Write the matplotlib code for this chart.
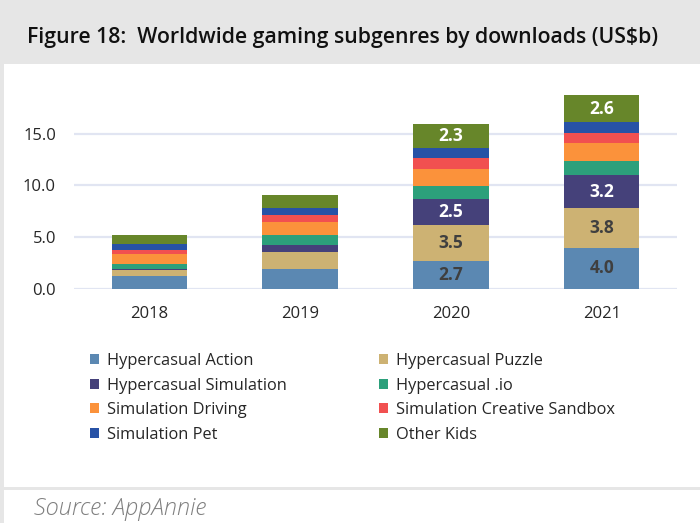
import matplotlib
matplotlib.use("Agg")
import matplotlib.pyplot as plt
from matplotlib.patches import Rectangle
import numpy as np

plt.rcParams['font.family'] = ['Open Sans', 'DejaVu Sans']

years = ["2018", "2019", "2020", "2021"]
series_names = [
    "Hypercasual Action", "Hypercasual Puzzle", "Hypercasual Simulation",
    "Hypercasual .io", "Simulation Driving", "Simulation Creative Sandbox",
    "Simulation Pet", "Other Kids",
]
hc_action     = [1.25, 1.93, 2.7, 4.0]
hc_puzzle     = [0.58, 1.67, 3.5, 3.8]
hc_simulation = [0.08, 0.62, 2.5, 3.2]
hc_io         = [0.55, 0.97, 1.2, 1.4]
sim_driving   = [0.93, 1.28, 1.7, 1.7]
sim_sandbox   = [0.36, 0.65, 1.0, 1.0]
sim_pet       = [0.61, 0.70, 1.0, 1.0]
other_kids    = [0.88, 1.28, 2.3, 2.6]
series_values = [hc_action, hc_puzzle, hc_simulation, hc_io,
                 sim_driving, sim_sandbox, sim_pet, other_kids]
colors = ["#5B88B2", "#CDB273", "#45417A", "#2CA07B",
          "#FB923B", "#F15050", "#2752A6", "#67862A"]
# series index -> label text colour; labels shown for 2020 and 2021 only
labelled = {0: "#3F3F3F", 1: "#3F3F3F", 2: "white", 7: "white"}
labelled_years = [2, 3]
ytick_vals = [0, 5, 10, 15]

W, H = 700, 523
fig = plt.figure(figsize=(W / 100, H / 100), dpi=100)

# header band and frame
fig.patches.append(Rectangle((0, 1 - 64 / H), 1, 64 / H, transform=fig.transFigure,
                             facecolor="#E6E6E6", edgecolor="none", zorder=0))
fig.patches.append(Rectangle((0, 0), 3.5 / W, 1, transform=fig.transFigure,
                             facecolor="#E6E6E6", edgecolor="none", zorder=0))
fig.patches.append(Rectangle((0, 1 - 490 / H), 1, 3 / H, transform=fig.transFigure,
                             facecolor="#E6E6E6", edgecolor="none", zorder=0))

fig.text(27 / W, 1 - 37 / H, "Figure 18:  Worldwide gaming subgenres by downloads (US$b)",
         fontsize=15.3, fontweight="semibold", color="#111111", va="center", ha="left")
fig.text(34 / W, 1 - 509 / H, "Source: AppAnnie", fontsize=17, style="italic",
         fontweight="light", color="#7F7F7F", va="center", ha="left")

ax_left, ax_right = 74, 677
ax_bottom, ax_top = 289, 90
ax = fig.add_axes([ax_left / W, 1 - ax_bottom / H, (ax_right - ax_left) / W,
                   (ax_bottom - ax_top) / H])
x = np.arange(len(years))
bottom = np.zeros(len(years))
handles = []
for i, (name, vals, col) in enumerate(zip(series_names, series_values, colors)):
    bars = ax.bar(x, vals, width=0.5, bottom=bottom, color=col, label=name,
                  edgecolor="none", zorder=3)
    handles.append(bars)
    if i in labelled:
        for j in labelled_years:
            ax.text(x[j], bottom[j] + vals[j] / 2, f"{vals[j]:.1f}", ha="center",
                    va="center", fontsize=12.5, fontweight="bold",
                    color=labelled[i], zorder=4)
    bottom += np.array(vals)

ax.set_xlim(-0.5, len(years) - 0.5)
ax.set_ylim(0, (ax_bottom - ax_top) / 10.36)
ax.set_yticks(ytick_vals)
ax.set_yticklabels([f"{v:.1f}" for v in ytick_vals])
ax.set_xticks(x)
ax.set_xticklabels(years)
ax.tick_params(axis="both", length=0, labelsize=12, labelcolor="#262626")
ax.tick_params(axis="y", pad=13)
ax.tick_params(axis="x", pad=12)
for s in ax.spines.values():
    s.set_visible(False)
ax.yaxis.grid(True, color="#E1E5F2", linewidth=1.6, zorder=0)
ax.set_axisbelow(True)

col1 = [0, 2, 4, 6]
col2 = [1, 3, 5, 7]
for cols, xpos in ((col1, 90), (col2, 379)):
    leg = fig.legend([handles[k] for k in cols], [series_names[k] for k in cols],
                     loc="upper left", bbox_to_anchor=(xpos / W, 1 - 353 / H),
                     frameon=False, fontsize=11.8, handlelength=0.55, handleheight=0.55,
                     handletextpad=0.5, labelspacing=0.52, borderpad=0,
                     borderaxespad=0)
    for t in leg.get_texts():
        t.set_color("#262626")

fig.savefig("out.png", dpi=100, facecolor="white")
